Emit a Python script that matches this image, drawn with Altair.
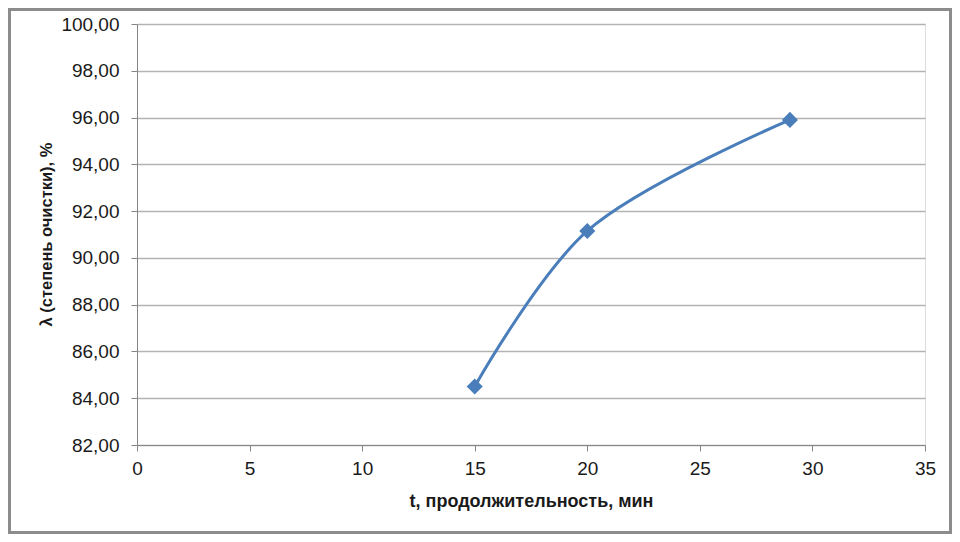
import altair as alt
import pandas as pd

t_values = [15, 20, 29]
lambda_values = [84.5, 91.15, 95.9]
x_ticks = [0, 5, 10, 15, 20, 25, 30, 35]
y_ticks = [82, 84, 86, 88, 90, 92, 94, 96, 98, 100]

df = pd.DataFrame({"t": t_values, "lam": lambda_values})
FONT = "Liberation Sans Narrow, Liberation Sans, Arial"

x = alt.X("t:Q", scale=alt.Scale(domain=[0, 35], nice=False, zero=False),
          axis=alt.Axis(values=x_ticks, title="t, продолжительность, мин", grid=False,
                        labelFontSize=19, labelPadding=8, labelFlush=False,
                        titleFontSize=18, titleFontWeight="bold",
                        titlePadding=14, tickSize=6, domainColor="#868686", tickColor="#868686",
                        labelColor="#1a1a1a", titleColor="#1a1a1a", labelFont=FONT, titleFont=FONT))
y = alt.Y("lam:Q", scale=alt.Scale(domain=[82, 100], nice=False, zero=False),
          axis=alt.Axis(values=y_ticks, title="λ (степень очистки), %", grid=True,
                        gridColor="#b3b3b3", gridWidth=1.3,
                        labelExpr="replace(format(datum.value, '.2f'), '.', ',')",
                        labelFontSize=19, labelPadding=12,
                        titleFontSize=16.5, titleFontWeight="bold",
                        titleX=-83, titleY=210, titleAngle=270, titleAlign="center", titleBaseline="bottom",
                        tickSize=6, domainColor="#868686", tickColor="#868686",
                        labelColor="#1a1a1a", titleColor="#1a1a1a", labelFont=FONT, titleFont=FONT))

line = alt.Chart(df).mark_line(interpolate="catmull-rom", color="#4A7EBB", strokeWidth=3).encode(x=x, y=y)
pts = alt.Chart(df).mark_point(shape="diamond", filled=True, size=260, color="#4A7EBB", opacity=1).encode(x=x, y=y)

border = alt.Chart(pd.DataFrame({"a": [0]})).mark_rect(
    fill=None, stroke="#8c8c8c", strokeWidth=3, clip=False
).encode(x=alt.value(-127.5), x2=alt.value(813.5), y=alt.value(-14.5), y2=alt.value(508.5))

chart = alt.layer(border, line, pts).properties(
    width=788, height=421,
    padding={"left": 129, "top": 16, "right": 27, "bottom": 89},
    autosize=alt.AutoSizeParams(type="none"),
).configure_view(stroke=None).configure(background="white")

chart.save("out.html", embed_options={"renderer": "svg", "actions": False})
